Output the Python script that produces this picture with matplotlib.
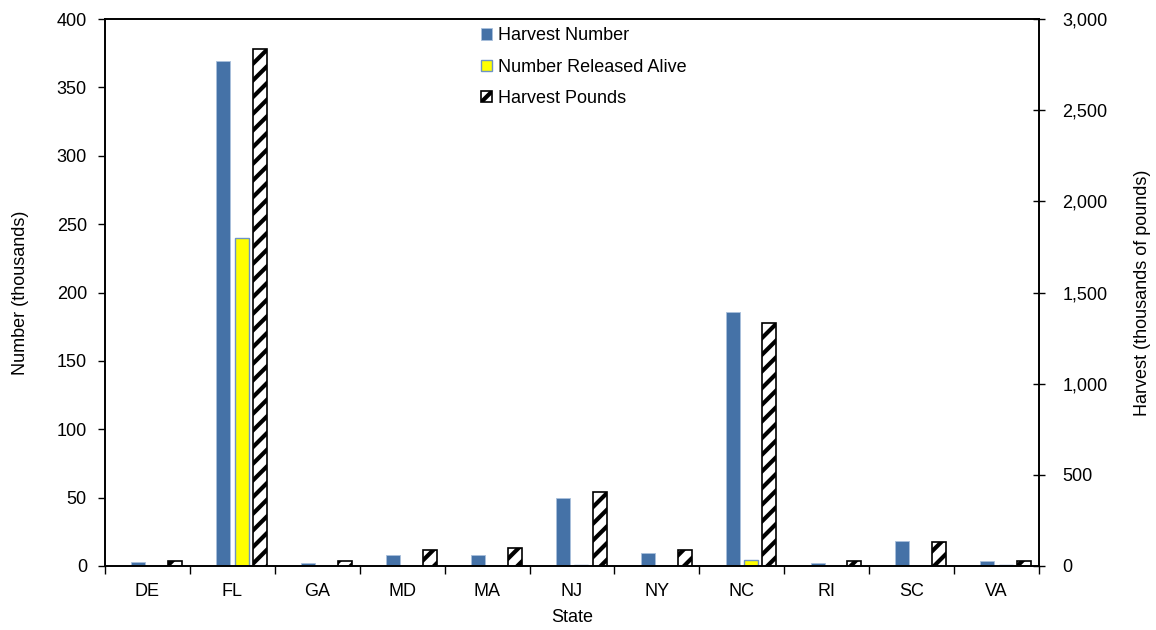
import numpy as np
import matplotlib
matplotlib.use("Agg")
import matplotlib.pyplot as plt
from matplotlib.ticker import FuncFormatter, MultipleLocator, FixedLocator

plt.rcParams['font.family'] = ['Liberation Sans', 'DejaVu Sans']
plt.rcParams['hatch.linewidth'] = 3.0

states = ['DE', 'FL', 'GA', 'MD', 'MA', 'NJ', 'NY', 'NC', 'RI', 'SC', 'VA']
# thousands of fish
harvest_number = [2.8, 369, 2.0, 7.7, 8.2, 49.5, 9.5, 185.5, 2.5, 18.1, 4.0]
released_alive = [0, 240, 0, 0, 0, 1.0, 0, 4.5, 0, 0, 1.0]
# thousands of pounds
harvest_pounds = [25, 2835, 26, 85, 98, 407, 89, 1333, 30, 134, 30]

fs = 13

fig = plt.figure(figsize=(11.56, 6.30), dpi=100)
ax = fig.add_axes([0.0908, 0.1016, 0.808, 0.8682])
ax2 = ax.twinx()

x = np.arange(len(states))
w = 0.165
s = 0.217

b1 = ax.bar(x - 0.5*s, harvest_number, w, color='#4572a7', edgecolor='#a9c0dc',
            linewidth=0.6, label='Harvest Number')
b2 = ax.bar(x + 0.5*s, released_alive, w, color='#ffff00', edgecolor='#6d93c4',
            linewidth=1.0, label='Number Released Alive')
b3 = ax2.bar(x + 1.5*s, harvest_pounds, w, color='white', edgecolor='black',
             hatch='//', linewidth=1.2, label='Harvest Pounds')

ax.set_xlim(-0.5, len(states) - 0.5)
ax.set_ylim(0, 400)
ax2.set_ylim(0, 3000)
ax.yaxis.set_major_locator(MultipleLocator(50))
ax2.yaxis.set_major_locator(MultipleLocator(500))
ax2.yaxis.set_major_formatter(FuncFormatter(lambda v, p: '{:,.0f}'.format(v)))

ax.set_xticks(x)
ax.set_xticklabels(states)
ax.xaxis.set_minor_locator(FixedLocator(np.arange(-0.5, len(states), 1.0)))
ax.tick_params(axis='x', which='major', length=0, pad=12, labelsize=fs)
ax.tick_params(axis='x', which='minor', length=6, width=1, direction='out')
ax.tick_params(axis='y', length=5, width=1, direction='out', labelsize=fs, pad=8)
ax2.tick_params(axis='y', length=8, width=1, direction='inout', labelsize=fs, pad=13)

for sp in ax.spines.values():
    sp.set_linewidth(1.2)
for sp in ax2.spines.values():
    sp.set_linewidth(1.2)

ax.set_xlabel('State', fontsize=fs, labelpad=7)
ax.set_ylabel('Number (thousands)', fontsize=fs, labelpad=20)
ax2.set_ylabel('Harvest (thousands of pounds)', fontsize=fs, labelpad=19)

ax.legend(handles=[b1, b2, b3], loc='upper left', bbox_to_anchor=(0.403, 0.985),
          frameon=False, fontsize=fs, handlelength=0.6, handleheight=0.6,
          handletextpad=0.3, labelspacing=0.8, borderaxespad=0, borderpad=0)

fig.savefig('out.png', dpi=100)
